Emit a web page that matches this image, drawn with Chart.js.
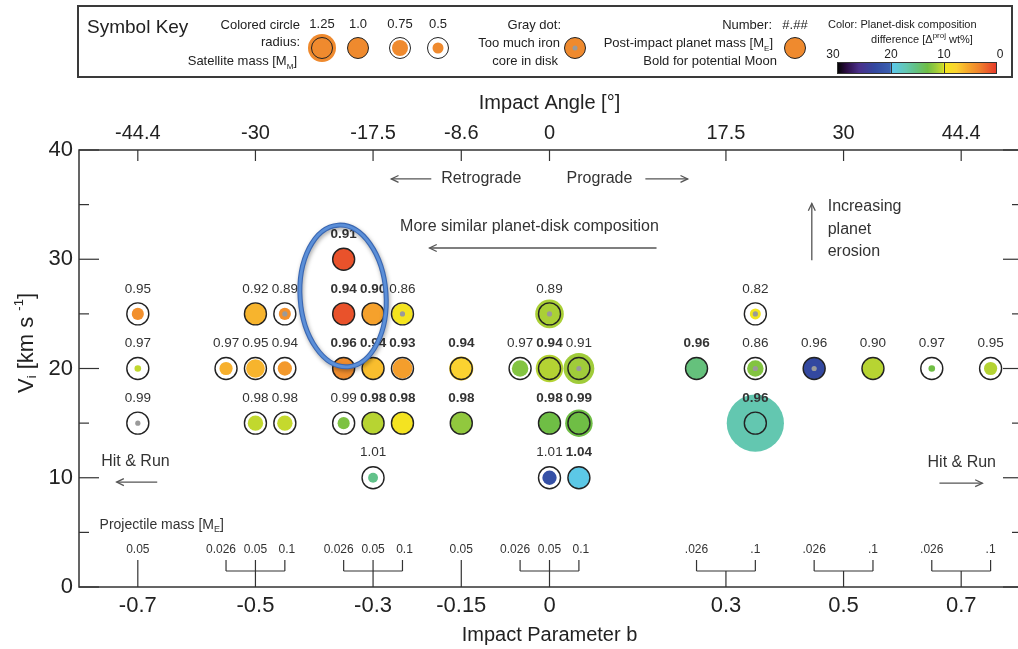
<!DOCTYPE html>
<html>
<head>
<meta charset="utf-8">
<script src="https://cdn.jsdelivr.net/npm/chart.js@4"></script>
<style>
html, body { margin: 0; padding: 0; background: #fff; overflow: hidden; width: 1018px; height: 649px; }
#wrap { position: relative; width: 1024px; height: 649px; }
#chart { position: absolute; left: 0; top: 0; }
.key { position: absolute; left: 77px; top: 5px; width: 936px; height: 73px; border: 2px solid #3a3a3a; box-sizing: border-box; }
.t { position: absolute; font: 13px 'Liberation Sans', Arial, sans-serif; color: #222; white-space: nowrap; line-height: 16px; }
.t sub, .t sup { font-size: 8px; line-height: 0; }
.l { transform: translate(0, -50%); }
.r { transform: translate(-100%, -50%); }
.c { transform: translate(-50%, -50%); }
.sym { position: absolute; width: 22px; height: 22px; margin: -11px 0 0 -11px; border: 1.5px solid #222; border-radius: 50%; box-sizing: border-box; background: #fff; }
.sym.full { background: #ef8a2e; }
.sym.big { background: #ef8a2e; box-shadow: 0 0 0 3px #ef8a2e; }
.sym i { position: absolute; left: 50%; top: 50%; transform: translate(-50%, -50%); border-radius: 50%; background: #ef8a2e; }
.sym i.g { width: 5px; height: 5px; background: #9a9a9a; }
#cbar { position: absolute; left: 837px; top: 62px; width: 160px; height: 12px; border: 1px solid #333; box-sizing: border-box; }
#cbar b { position: absolute; top: 0; bottom: 0; width: 1px; background: #333; }
</style>
</head>
<body>
<div id="wrap">
  <canvas id="chart" width="1024" height="649"></canvas>

  <div class="key"></div>
  <div class="t l" style="left:87px;top:27px;font-size:19px">Symbol Key</div>
  <div class="t r" style="left:300px;top:25px">Colored circle</div>
  <div class="t r" style="left:300px;top:42px">radius:</div>
  <div class="t r" style="left:297px;top:61px">Satellite mass [M<sub>M</sub>]</div>
  <div class="t c" style="left:322px;top:24px">1.25</div>
  <div class="t c" style="left:358px;top:24px">1.0</div>
  <div class="t c" style="left:400px;top:24px">0.75</div>
  <div class="t c" style="left:438px;top:24px">0.5</div>
  <div class="sym big" style="left:322px;top:48px"></div>
  <div class="sym full" style="left:358px;top:48px"></div>
  <div class="sym" style="left:400px;top:48px"><i style="width:16px;height:16px"></i></div>
  <div class="sym" style="left:438px;top:48px"><i style="width:11px;height:11px"></i></div>

  <div class="t r" style="left:561px;top:25px">Gray dot:</div>
  <div class="t r" style="left:560px;top:43px">Too much iron</div>
  <div class="t r" style="left:558px;top:61px">core in disk</div>
  <div class="sym full" style="left:575px;top:48px"><i class="g"></i></div>

  <div class="t r" style="left:772px;top:25px">Number:</div>
  <div class="t c" style="left:795px;top:25px">#.##</div>
  <div class="t r" style="left:773px;top:43px">Post-impact planet mass [M<sub>E</sub>]</div>
  <div class="t r" style="left:777px;top:61px">Bold for potential Moon</div>
  <div class="sym full" style="left:795px;top:48px"></div>

  <div class="t l" style="left:828px;top:24px;font-size:11px">Color: Planet-disk composition</div>
  <div class="t c" style="left:922px;top:39px;font-size:11px">difference [Δ<sup>proj</sup> wt%]</div>
  <div class="t c" style="left:833px;top:54px;font-size:12px">30</div>
  <div class="t c" style="left:891px;top:54px;font-size:12px">20</div>
  <div class="t c" style="left:944px;top:54px;font-size:12px">10</div>
  <div class="t c" style="left:1000px;top:54px;font-size:12px">0</div>
  <div id="cbar"><b style="left:53px"></b><b style="left:106px"></b></div>
</div>

<script>
'use strict';

// ── Axes ──────────────────────────────────────────────────────────
const bTicks      = [-0.7, -0.5, -0.3, -0.15, 0, 0.3, 0.5, 0.7];
const bTickLabels = ['-0.7', '-0.5', '-0.3', '-0.15', '0', '0.3', '0.5', '0.7'];
const angleLabels = ['-44.4', '-30', '-17.5', '-8.6', '0', '17.5', '30', '44.4'];
const vMajor = [0, 10, 20, 30, 40];
const vMinor = [5, 15, 25, 35];

// projectile masses run at each impact parameter
const groupMasses     = [[0.05], [0.026, 0.05, 0.1], [0.026, 0.05, 0.1], [0.05], [0.026, 0.05, 0.1], [0.026, 0.1], [0.026, 0.1], [0.026, 0.1]];
const groupMassLabels = [['0.05'], ['0.026', '0.05', '0.1'], ['0.026', '0.05', '0.1'], ['0.05'], ['0.026', '0.05', '0.1'], ['.026', '.1'], ['.026', '.1'], ['.026', '.1']];
const massOffset = { 0.026: -0.05, 0.05: 0, 0.1: 0.05 };

// ── Simulations ───────────────────────────────────────────────────
const simB    = [-0.7, -0.7, -0.7, -0.5, -0.5, -0.5, -0.5, -0.5, -0.5, -0.5,
                 -0.3, -0.3, -0.3, -0.3, -0.3, -0.3, -0.3, -0.3, -0.3, -0.3, -0.3,
                 -0.15, -0.15, 0, 0, 0, 0, 0, 0, 0, 0, 0.3, 0.3, 0.3, 0.3, 0.5, 0.5, 0.7, 0.7];
const simMass = [0.05, 0.05, 0.05, 0.05, 0.1, 0.026, 0.05, 0.1, 0.05, 0.1,
                 0.026, 0.026, 0.05, 0.1, 0.026, 0.05, 0.1, 0.026, 0.05, 0.1, 0.05,
                 0.05, 0.05, 0.05, 0.026, 0.05, 0.1, 0.05, 0.1, 0.05, 0.1, 0.1, 0.026, 0.1, 0.1, 0.026, 0.1, 0.026, 0.1];
const simV    = [25, 20, 15, 25, 25, 20, 20, 20, 15, 15,
                 30, 25, 25, 25, 20, 20, 20, 15, 15, 15, 10,
                 20, 15, 25, 20, 20, 20, 15, 15, 10, 10, 25, 20, 20, 15, 20, 20, 20, 20];
const planetMass = [0.95, 0.97, 0.99, 0.92, 0.89, 0.97, 0.95, 0.94, 0.98, 0.98,
                    0.91, 0.94, 0.90, 0.86, 0.96, 0.94, 0.93, 0.99, 0.98, 0.98, 1.01,
                    0.94, 0.98, 0.89, 0.97, 0.94, 0.91, 0.98, 0.99, 1.01, 1.04, 0.82, 0.96, 0.86, 0.96, 0.96, 0.90, 0.97, 0.95];
const satMass = [0.55, 0.3, 0, 1.0, 0.55, 0.6, 0.85, 0.65, 0.7, 0.7,
                 1.0, 1.0, 1.0, 0.95, 1.0, 1.0, 0.9, 0.55, 1.0, 1.0, 0.45,
                 1.1, 1.0, 1.3, 0.75, 1.25, 1.4, 1.0, 1.25, 0.65, 1.0, 0.5, 1.0, 0.75, 2.6, 1.0, 1.0, 0.3, 0.6];
const compDiff = [4, 10.3, 0, 6, 4, 5.8, 6, 4.5, 10.3, 10.2,
                  1, 1, 5, 9.5, 3.8, 6.5, 4.8, 12.5, 10.6, 9.3, 15.5,
                  7.5, 11.8, 11, 12.3, 10.7, 11.3, 13, 13, 22, 19.5, 9.7, 15, 12.3, 17, 23, 10.6, 13, 10.7];
const ironCore = [0, 0, 1, 0, 1, 0, 0, 0, 0, 0,
                  0, 0, 0, 1, 0, 0, 0, 0, 0, 0, 0,
                  0, 0, 1, 0, 0, 1, 0, 0, 0, 0, 1, 0, 1, 0, 1, 0, 0, 0];
const potentialMoon = [0, 0, 0, 0, 0, 0, 0, 0, 0, 0,
                       1, 1, 1, 0, 1, 1, 1, 0, 1, 1, 0,
                       1, 1, 0, 0, 1, 0, 1, 1, 0, 1, 0, 1, 0, 1, 0, 0, 0, 0];

// composition difference colour scale (Δ, colour)
const compStops = [[0, '#e63b2a'], [3, '#ef7f2d'], [5.5, '#f6aa2c'], [7.5, '#fbd230'], [9.9, '#f2e81c'],
                   [10.1, '#c8da2c'], [11.5, '#99ca3c'], [13, '#6fbe45'], [15.5, '#62c28a'], [17, '#63c7b0'],
                   [19.9, '#5bc8ef'], [20.1, '#3a5fb0'], [23, '#3348a0'], [26, '#4a2f8a'], [28.5, '#2a0c40'], [30, '#050505']];

// ── Annotations (data units) ──────────────────────────────────────
const notes = [
  { text: 'Retrograde', b: -0.116, v: 37.35 },
  { text: 'Prograde', b: 0.085, v: 37.35 },
  { text: 'More similar planet-disk composition', b: -0.034, v: 32.95 },
  { text: 'Increasing', b: 0.473, v: 34.78, align: 'left' },
  { text: 'planet', b: 0.473, v: 32.68, align: 'left' },
  { text: 'erosion', b: 0.473, v: 30.66, align: 'left' },
  { text: 'Hit & Run', b: -0.704, v: 11.44 },
  { text: 'Hit & Run', b: 0.701, v: 11.35 },
];
const arrows = [
  [-0.201, 37.35, -0.269, 37.35],
  [0.163, 37.35, 0.235, 37.35],
  [0.182, 31.03, -0.204, 31.03],
  [0.446, 29.9, 0.446, 35.1],
  [-0.667, 9.6, -0.736, 9.6],
  [0.663, 9.5, 0.736, 9.5],
];
const highlight = { b: -0.351, v: 26.64, rx: 43, ry: 71, rot: -0.07 };

// ── Helpers ───────────────────────────────────────────────────────
const FONT = "'Liberation Sans', Arial, Helvetica, sans-serif";
const RING = 11;

function hex(c) { return [1, 3, 5].map(i => parseInt(c.slice(i, i + 2), 16)); }
function compColor(d) {
  for (let i = 1; i < compStops.length; i++) {
    const [d0, c0] = compStops[i - 1], [d1, c1] = compStops[i];
    if (d <= d1) {
      const t = (d - d0) / (d1 - d0), a = hex(c0), b = hex(c1);
      return 'rgb(' + a.map((v, k) => Math.round(v + (b[k] - v) * t)).join(',') + ')';
    }
  }
  return compStops[compStops.length - 1][1];
}
function seg(ctx, x1, y1, x2, y2) { ctx.beginPath(); ctx.moveTo(x1, y1); ctx.lineTo(x2, y2); ctx.stroke(); }
function arrow(ctx, x1, y1, x2, y2) {
  seg(ctx, x1, y1, x2, y2);
  const a = Math.atan2(y2 - y1, x2 - x1), h = 8;
  ctx.beginPath();
  ctx.moveTo(x2 - h * Math.cos(a - 0.45), y2 - h * Math.sin(a - 0.45));
  ctx.lineTo(x2, y2);
  ctx.lineTo(x2 - h * Math.cos(a + 0.45), y2 - h * Math.sin(a + 0.45));
  ctx.stroke();
}
// parts: [text, size, dy]
function richText(ctx, parts, x, y, align) {
  const w = parts.map(([t, s]) => { ctx.font = s + 'px ' + FONT; return ctx.measureText(t).width; });
  const total = w.reduce((a, b) => a + b, 0);
  let cx = align === 'left' ? x : x - total / 2;
  ctx.textAlign = 'left'; ctx.textBaseline = 'middle';
  parts.forEach(([t, s, dy], i) => { ctx.font = s + 'px ' + FONT; ctx.fillText(t, cx, y + dy); cx += w[i]; });
}

// colour bar in the key
document.getElementById('cbar').style.background =
  'linear-gradient(to right,' + compStops.slice().reverse().map(([d, c]) => `${c} ${((30 - d) / 30 * 100).toFixed(2)}%`).join(',') + ')';

// ── Overlay plugin ────────────────────────────────────────────────
const overlay = {
  id: 'overlay',
  beforeDatasetsDraw(chart) {
    const { ctx, chartArea: a, scales: { x, y } } = chart;
    ctx.save();
    ctx.strokeStyle = '#333';
    ctx.lineWidth = 1.5;
    ctx.strokeRect(a.left, a.top, a.right - a.left, a.bottom - a.top);

    ctx.lineWidth = 1.2;
    vMajor.forEach(v => { const py = y.getPixelForValue(v); seg(ctx, a.left, py, a.left + 20, py); seg(ctx, a.right, py, a.right - 17, py); });
    vMinor.forEach(v => { const py = y.getPixelForValue(v); seg(ctx, a.left, py, a.left + 10, py); seg(ctx, a.right, py, a.right - 8, py); });
    bTicks.forEach(b => { const px = x.getPixelForValue(b); seg(ctx, px, a.top, px, a.top + 11); });

    // projectile mass brackets
    const base = a.bottom;
    ctx.fillStyle = '#333';
    ctx.font = '12px ' + FONT;
    ctx.textAlign = 'center'; ctx.textBaseline = 'middle';
    bTicks.forEach((b, g) => {
      const ms = groupMasses[g];
      const xs = ms.map(m => x.getPixelForValue(b + massOffset[m]));
      const bx = x.getPixelForValue(b);
      if (ms.length === 1) {
        seg(ctx, bx, base, bx, base - 27);
      } else {
        const l = xs[0], r = xs[xs.length - 1];
        seg(ctx, l, base - 16, r, base - 16);
        seg(ctx, l, base - 16, l, base - 27);
        seg(ctx, r, base - 16, r, base - 27);
        seg(ctx, bx, base, bx, ms.includes(0.05) ? base - 27 : base - 16);
      }
      const nudge = ms.length === 3 ? [-5, 0, 2] : [0, 0];
      xs.forEach((px, k) => ctx.fillText(groupMassLabels[g][k], px + nudge[k], base - 37));
    });
    richText(ctx, [['Projectile mass [M', 14, 0], ['E', 9, 4], [']', 14, 0]], x.getPixelForValue(-0.765), y.getPixelForValue(5.67), 'left');

    // notes and arrows
    ctx.fillStyle = '#333';
    notes.forEach(n => {
      ctx.font = '16px ' + FONT;
      ctx.textAlign = n.align || 'center'; ctx.textBaseline = 'middle';
      ctx.fillText(n.text, x.getPixelForValue(n.b), y.getPixelForValue(n.v));
    });
    ctx.strokeStyle = '#555';
    ctx.lineWidth = 1.3;
    arrows.forEach(([b1, v1, b2, v2]) => arrow(ctx, x.getPixelForValue(b1), y.getPixelForValue(v1), x.getPixelForValue(b2), y.getPixelForValue(v2)));
    ctx.restore();
  },
  afterDatasetsDraw(chart) {
    const { ctx, scales: { x, y } } = chart;
    ctx.save();
    ctx.fillStyle = '#333';
    ctx.textAlign = 'center'; ctx.textBaseline = 'middle';
    simB.forEach((b, i) => {
      ctx.font = (potentialMoon[i] ? 'bold ' : '') + '13.5px ' + FONT;
      ctx.fillText(planetMass[i].toFixed(2), x.getPixelForValue(b + massOffset[simMass[i]]), y.getPixelForValue(simV[i]) - 25);
    });

    // highlighted region
    const cx = x.getPixelForValue(highlight.b), cy = y.getPixelForValue(highlight.v);
    ctx.shadowColor = 'rgba(0,0,0,0.35)';
    ctx.shadowBlur = 4; ctx.shadowOffsetX = 1; ctx.shadowOffsetY = 2;
    ctx.beginPath();
    ctx.ellipse(cx, cy, highlight.rx, highlight.ry, highlight.rot, 0, Math.PI * 2);
    ctx.strokeStyle = '#3a67b2'; ctx.lineWidth = 5; ctx.stroke();
    ctx.shadowColor = 'transparent';
    ctx.strokeStyle = '#5b8fd8'; ctx.lineWidth = 2.8; ctx.stroke();

    // y title
    ctx.fillStyle = '#222';
    ctx.translate(27, 343);
    ctx.rotate(-Math.PI / 2);
    richText(ctx, [['V', 22, 0], ['i', 13, 5], [' [km s ', 22, 0], ['-1', 13, -8], [']', 22, 0]], 0, 0, 'center');
    ctx.restore();
  },
};

// ── Chart ─────────────────────────────────────────────────────────
Chart.defaults.font.family = FONT;
Chart.defaults.color = '#222';

const pts = simB.map((b, i) => ({ x: b + massOffset[simMass[i]], y: simV[i] }));

new Chart(document.getElementById('chart'), {
  type: 'scatter',
  data: {
    datasets: [
      { label: 'fill', data: pts, order: 3, pointRadius: satMass.map(s => s * RING),
        pointBackgroundColor: compDiff.map(compColor), pointBorderWidth: 0 },
      { label: 'ring', data: pts, order: 2, pointRadius: RING,
        pointBackgroundColor: 'rgba(0,0,0,0)', pointBorderColor: '#222', pointBorderWidth: 1.4 },
      { label: 'iron', data: pts, order: 1, pointRadius: ironCore.map(f => f ? 2.6 : 0),
        pointBackgroundColor: '#9a9a9a', pointBorderWidth: 0 },
    ],
  },
  options: {
    responsive: false,
    animation: false,
    events: [],
    layout: { autoPadding: false, padding: { top: 80, left: 0, right: 4, bottom: 0 } },
    plugins: { legend: { display: false }, tooltip: { enabled: false } },
    scales: {
      x: {
        type: 'linear', position: 'bottom', min: -0.8, max: 0.8,
        afterBuildTicks: s => { s.ticks = bTicks.map(v => ({ value: v })); },
        afterFit: s => { s.height = 62; s.paddingLeft = 0; s.paddingRight = 0; },
        grid: { display: false, drawTicks: false }, border: { display: false },
        ticks: { autoSkip: false, maxRotation: 0, padding: 6, font: { size: 22 }, callback: (v, i) => bTickLabels[i] },
        title: { display: true, text: 'Impact Parameter b', font: { size: 20 }, padding: { top: 0, bottom: 2 } },
      },
      xTop: {
        type: 'linear', position: 'top', min: -0.8, max: 0.8,
        afterBuildTicks: s => { s.ticks = bTicks.map(v => ({ value: v })); },
        afterFit: s => { s.height = 70; s.paddingLeft = 0; s.paddingRight = 0; },
        grid: { display: false, drawTicks: false }, border: { display: false },
        ticks: { autoSkip: false, maxRotation: 0, padding: 5, font: { size: 20 }, callback: (v, i) => angleLabels[i] },
        title: { display: true, text: 'Impact Angle [°]', font: { size: 20 }, padding: { top: 11, bottom: 0 } },
      },
      y: {
        type: 'linear', min: 0, max: 40,
        afterBuildTicks: s => { s.ticks = vMajor.map(v => ({ value: v })); },
        afterFit: s => { s.width = 79; },
        grid: { display: false, drawTicks: false }, border: { display: false },
        ticks: { padding: 6, font: { size: 22 } },
      },
    },
  },
  plugins: [overlay],
});
</script>
</body>
</html>
